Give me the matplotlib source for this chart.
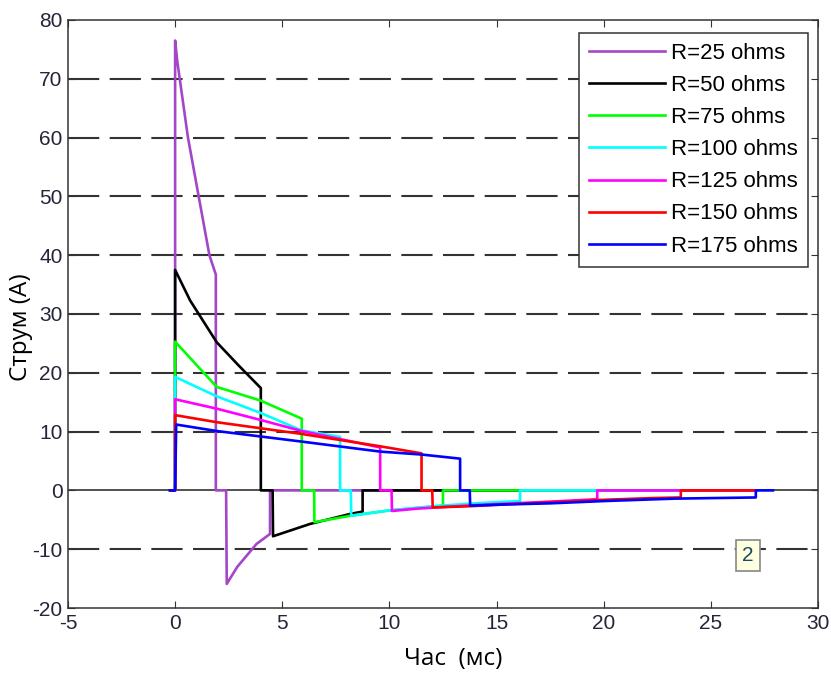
import matplotlib
matplotlib.use('Agg')
import matplotlib.pyplot as plt

# Current curves for each load resistance (time in ms, current in A)
labels = ['R=25 ohms', 'R=50 ohms', 'R=75 ohms', 'R=100 ohms',
          'R=125 ohms', 'R=150 ohms', 'R=175 ohms']
colors = ['#A347C8', '#000000', '#00FF00', '#00FFFF',
          '#FF00FF', '#FF0000', '#0000FF']

t25 = [-0.2, 0, 0, 0.1, 0.6, 1.1, 1.6, 1.9, 1.9, 2.38, 2.41, 2.9, 3.8, 4.43, 4.43, 27.1]
i25 = [0, 0, 76.5, 73, 60, 50, 40, 36.7, 0, 0, -15.9, -13.0, -9.1, -7.4, 0, 0]

t50 = [-0.2, 0, 0, 0.7, 1.94, 2.95, 4.0, 4.0, 4.55, 4.57, 6.3, 8.17, 8.75, 8.75, 27.1]
i50 = [0, 0, 37.5, 32.3, 25.2, 21.3, 17.4, 0, 0, -7.8, -5.7, -4.0, -3.6, 0, 0]

t75 = [-0.2, 0, 0, 1.94, 3.97, 5.91, 5.91, 6.49, 6.5, 8.2, 10.0, 12.5, 12.5, 27.1]
i75 = [0, 0, 25.3, 17.6, 15.3, 12.2, 0, 0, -5.4, -4.3, -3.4, -2.6, 0, 0]

t100 = [-0.2, 0, 0, 1.94, 3.97, 5.9, 7.7, 7.7, 8.2, 8.22, 10.0, 12.0, 14.0, 16.1, 16.1, 27.1]
i100 = [0, 0, 19.3, 16.0, 13.2, 10.2, 9.1, 0, 0, -4.3, -3.4, -2.7, -2.2, -1.8, 0, 0]

t125 = [-0.2, 0, 0, 1.94, 3.97, 5.91, 9.57, 9.57, 10.1, 10.12, 11.3, 14.0, 17.0, 19.7, 19.7, 27.1]
i125 = [0, 0, 15.5, 13.9, 12.0, 10.1, 7.3, 0, 0, -3.5, -3.1, -2.5, -2.0, -1.5, 0, 0]

t150 = [-0.2, 0, 0, 1.94, 5.91, 9.57, 11.5, 11.5, 12.0, 12.02, 13.7, 17.0, 20.0, 22.3, 23.6, 23.6, 27.1]
i150 = [0, 0, 12.8, 11.6, 9.6, 7.5, 6.3, 0, 0, -2.9, -2.7, -2.1, -1.6, -1.3, -1.2, 0, 0]

t175 = [-0.25, 0, 0.05, 1.94, 5.91, 9.57, 11.5, 13.3, 13.3, 13.75, 13.77, 15.3, 17.5, 20.1, 23.3, 27.1, 27.1, 27.9]
i175 = [0, 0, 11.2, 10.1, 8.3, 6.6, 6.1, 5.4, 0, 0, -2.6, -2.4, -2.2, -1.8, -1.4, -1.2, 0, 0]

times = [t25, t50, t75, t100, t125, t150, t175]
currents = [i25, i50, i75, i100, i125, i150, i175]

x_ticks = [-5, 0, 5, 10, 15, 20, 25, 30]
y_ticks = [-20, -10, 0, 10, 20, 30, 40, 50, 60, 70, 80]

plt.rcParams['font.family'] = ['Liberation Sans', 'DejaVu Sans']
plt.rcParams['axes.unicode_minus'] = False

fig = plt.figure(figsize=(8.31, 6.77), dpi=100)
ax = fig.add_axes([0.0818, 0.1019, 0.9025, 0.8686])

# dashed grid lines, solid zero line
for y in y_ticks[1:-1]:
    if y == 0:
        ax.axhline(y, color='#333333', lw=1.2, zorder=1)
    else:
        ax.axhline(y, color='#333333', lw=1.5, linestyle=(0, (15, 5)), zorder=1)

for t, i, c, lab in zip(times, currents, colors, labels):
    ax.plot(t, i, color=c, lw=1.9, label=lab, zorder=2)

ax.set_xlim(-5, 30)
ax.set_ylim(-20, 80)
ax.set_xticks(x_ticks)
ax.set_yticks(y_ticks)
ax.tick_params(direction='in', length=5, top=True, right=True,
               labelsize=15, labelcolor='#25253a', color='#333333', pad=4)
for s in ax.spines.values():
    s.set_color('#333333')
    s.set_linewidth(1.1)

ax.set_xlabel('Час  (мс)', fontsize=17.5, family=['Open Sans', 'DejaVu Sans'])
ax.set_ylabel('Струм (A)', fontsize=17.5, family=['Open Sans', 'DejaVu Sans'])
ax.xaxis.set_label_coords(0.513, -0.066)
ax.yaxis.set_label_coords(-0.046, 0.478)

leg = ax.legend(loc='upper right', bbox_to_anchor=(0.9867, 0.978), borderaxespad=0,
                fontsize=16, handlelength=3.4, handletextpad=0.3, labelspacing=0.5,
                fancybox=False, framealpha=1, edgecolor='#333333', borderpad=0.45)
leg.get_frame().set_linewidth(1.1)

ax.text(26.74, -11.1, '2', fontsize=15, color='#1f4a5a', ha='center', va='center',
        bbox=dict(boxstyle='square,pad=0.3', fc='#FFFFE1', ec='#888888', lw=1.2),
        zorder=5)

fig.savefig('out.png', dpi=100)
